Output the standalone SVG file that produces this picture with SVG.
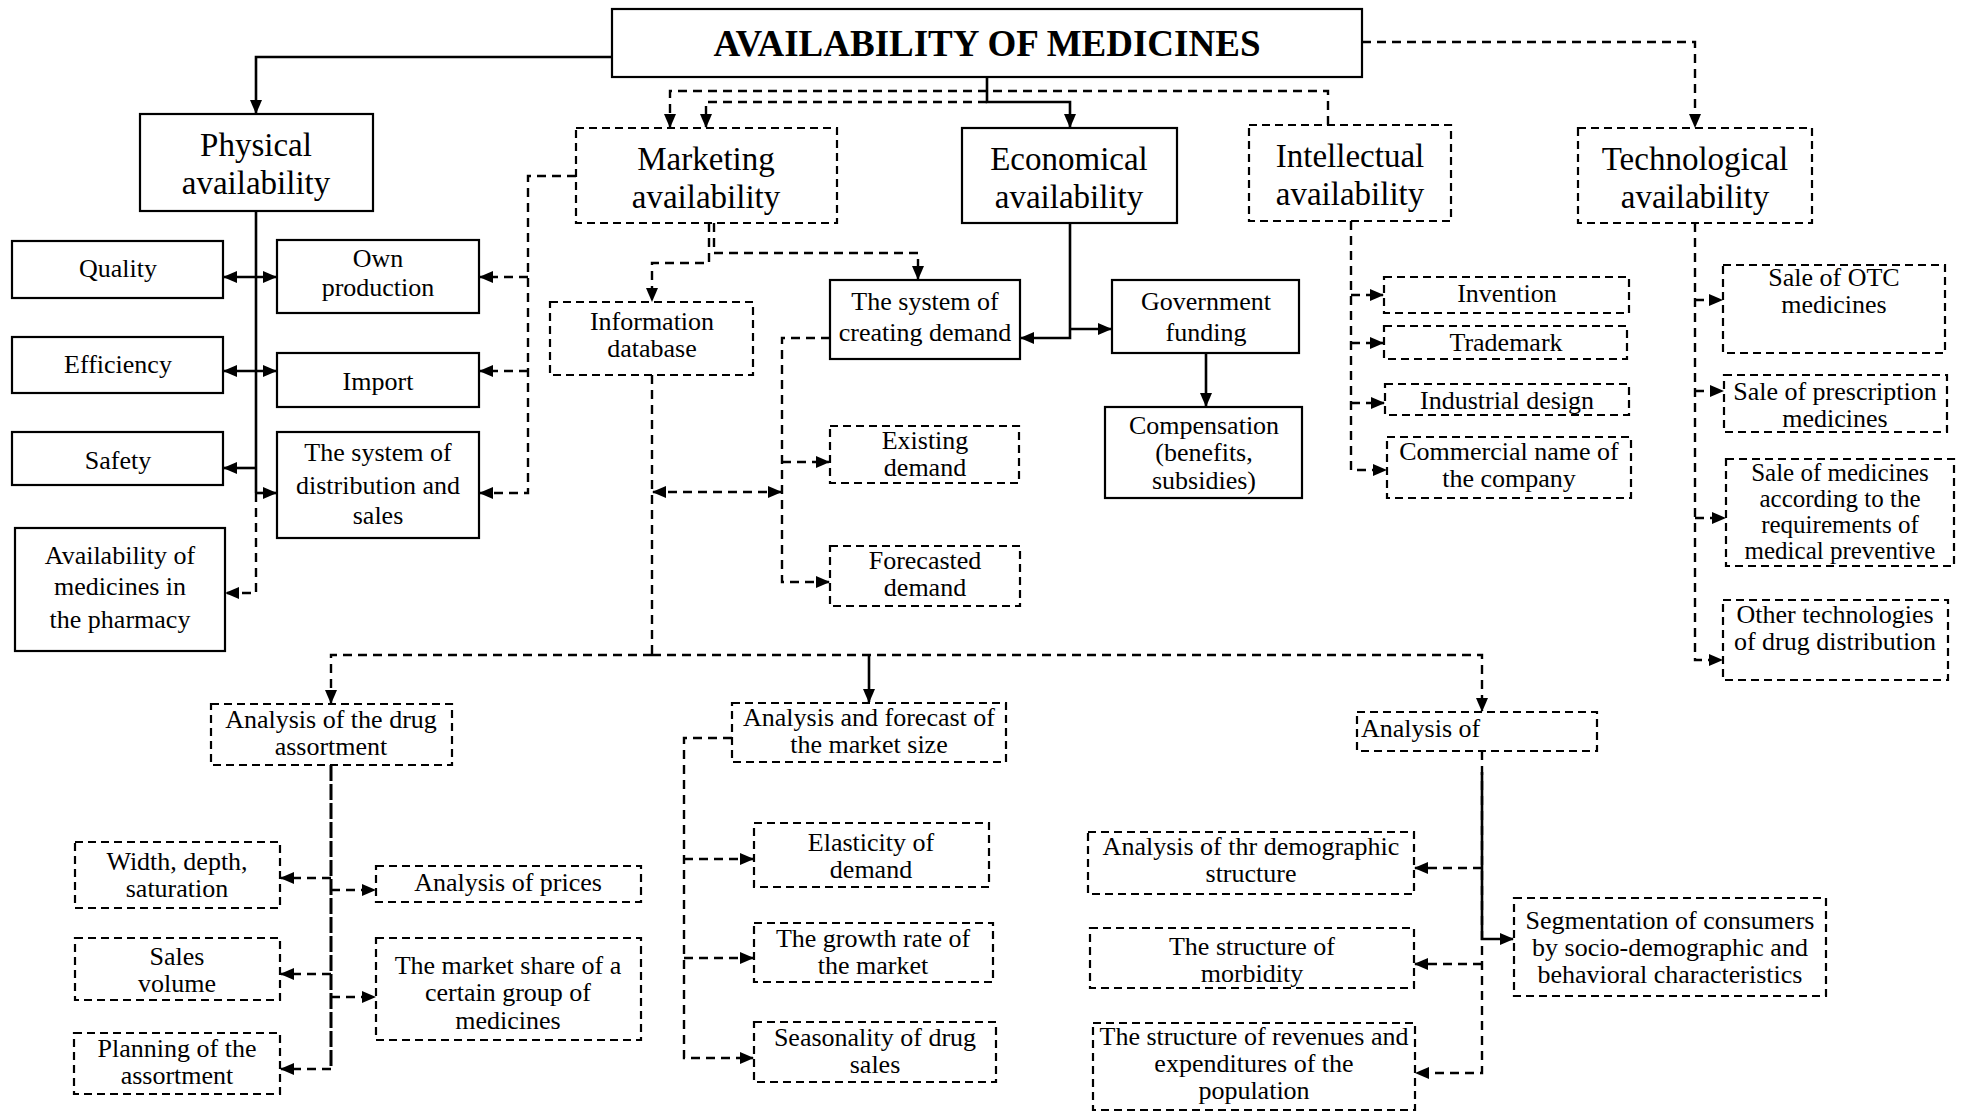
<svg xmlns="http://www.w3.org/2000/svg" width="1964" height="1113" viewBox="0 0 1964 1113">
<style>
.b{fill:#fff;stroke:#000;stroke-width:2.2}
.db{fill:#fff;stroke:#000;stroke-width:2.2;stroke-dasharray:8 5}
text{font-family:"Liberation Serif","Times New Roman",serif;font-size:26px;text-anchor:middle;fill:#000}
.big{font-size:33px}
.title{font-size:37px;font-weight:bold}
.sm{font-size:25px}
.s{fill:none;stroke:#000;stroke-width:2.6}
.d{fill:none;stroke:#000;stroke-width:2.4;stroke-dasharray:9 6}
.dt{fill:none;stroke:#000;stroke-width:3;stroke-dasharray:16 3}
</style>
<defs>
<marker id="a" viewBox="0 0 14 12" refX="13" refY="6" markerWidth="14" markerHeight="12" markerUnits="userSpaceOnUse" orient="auto-start-reverse"><path d="M0,0L14,6L0,12z" fill="#000"/></marker>
</defs>
<rect width="1964" height="1113" fill="#fff"/>
<g id="connectors">
<path class="s" d="M612,57H256V113" marker-end="url(#a)"/>
<path class="s" d="M987,77V102H1070V127" marker-end="url(#a)"/>
<path class="s" d="M256,211V493"/>
<path class="d" d="M256,493V593H226" marker-end="url(#a)"/>
<path class="s" d="M224,277H276" marker-start="url(#a)" marker-end="url(#a)"/>
<path class="s" d="M224,371H276" marker-start="url(#a)" marker-end="url(#a)"/>
<path class="s" d="M256,468H224" marker-end="url(#a)"/>
<path class="s" d="M256,493H276" marker-end="url(#a)"/>
<path class="s" d="M1070,223V338H1021" marker-end="url(#a)"/>
<path class="s" d="M1070,329H1111" marker-end="url(#a)"/>
<path class="s" d="M1206,353V406" marker-end="url(#a)"/>
<path class="s" d="M869,655V702" marker-end="url(#a)"/>
<path class="s" d="M1482,772V939H1513" marker-end="url(#a)"/>
<path class="d" d="M1362,42H1695V127" marker-end="url(#a)"/>
<path class="d" d="M1328,125V91H670V127" marker-end="url(#a)"/>
<path class="d" d="M987,102H706V127" marker-end="url(#a)"/>
<path class="d" d="M576,176H528V493H480" marker-end="url(#a)"/>
<path class="d" d="M528,277H480" marker-end="url(#a)"/>
<path class="d" d="M528,371H480" marker-end="url(#a)"/>
<path class="d" d="M709,223V263H652V301" marker-end="url(#a)"/>
<path class="d" d="M714,223V253H918V279" marker-end="url(#a)"/>
<path class="d" d="M830,338H782V582H829" marker-end="url(#a)"/>
<path class="d" d="M782,462H829" marker-end="url(#a)"/>
<path class="d" d="M653,492H781" marker-start="url(#a)" marker-end="url(#a)"/>
<path class="d" d="M652,375V655"/>
<path class="d" d="M652,655H331V703" marker-end="url(#a)"/>
<path class="d" d="M652,655H1482V711" marker-end="url(#a)"/>
<path class="dt" d="M331,765V1069"/>
<path class="d" d="M331,1069H281" marker-end="url(#a)"/>
<path class="d" d="M331,878H281" marker-end="url(#a)"/>
<path class="d" d="M331,974H281" marker-end="url(#a)"/>
<path class="d" d="M331,890H375" marker-end="url(#a)"/>
<path class="d" d="M331,997H375" marker-end="url(#a)"/>
<path class="d" d="M732,738H684V1058H753" marker-end="url(#a)"/>
<path class="d" d="M684,859H753" marker-end="url(#a)"/>
<path class="d" d="M684,958H753" marker-end="url(#a)"/>
<path class="d" d="M1482,751V1073H1416" marker-end="url(#a)"/>
<path class="d" d="M1482,868H1415" marker-end="url(#a)"/>
<path class="d" d="M1482,964H1415" marker-end="url(#a)"/>
<path class="d" d="M1351,221V470H1386" marker-end="url(#a)"/>
<path class="d" d="M1351,295H1383" marker-end="url(#a)"/>
<path class="d" d="M1351,343H1383" marker-end="url(#a)"/>
<path class="d" d="M1351,403H1384" marker-end="url(#a)"/>
<path class="d" d="M1695,223V660H1722" marker-end="url(#a)"/>
<path class="d" d="M1695,300H1722" marker-end="url(#a)"/>
<path class="d" d="M1695,391H1723" marker-end="url(#a)"/>
<path class="d" d="M1695,518H1725" marker-end="url(#a)"/>
</g>
<g id="main"><rect class="b" x="612" y="9" width="750" height="68"/><text class="title" x="987" y="56">AVAILABILITY OF MEDICINES</text></g>
<g id="physical"><rect class="b" x="140" y="114" width="233" height="97"/><text class="big" x="256" y="156">Physical</text><text class="big" x="256" y="194">availability</text></g>
<g id="marketing"><rect class="db" x="576" y="128" width="261" height="95"/><text class="big" x="706" y="170">Marketing</text><text class="big" x="706" y="208">availability</text></g>
<g id="economical"><rect class="b" x="962" y="128" width="215" height="95"/><text class="big" x="1069" y="170">Economical</text><text class="big" x="1069" y="208">availability</text></g>
<g id="intellectual"><rect class="db" x="1249" y="125" width="202" height="96"/><text class="big" x="1350" y="167">Intellectual</text><text class="big" x="1350" y="205">availability</text></g>
<g id="technological"><rect class="db" x="1578" y="128" width="234" height="95"/><text class="big" x="1695" y="170">Technological</text><text class="big" x="1695" y="208">availability</text></g>
<g id="quality"><rect class="b" x="12" y="241" width="211" height="57"/><text x="118" y="277">Quality</text></g>
<g id="own"><rect class="b" x="277" y="240" width="202" height="73"/><text x="378" y="267">Own</text><text x="378" y="296">production</text></g>
<g id="efficiency"><rect class="b" x="12" y="337" width="211" height="56"/><text x="118" y="373">Efficiency</text></g>
<g id="import"><rect class="b" x="277" y="353" width="202" height="54"/><text x="378" y="390">Import</text></g>
<g id="safety"><rect class="b" x="12" y="432" width="211" height="53"/><text x="118" y="469">Safety</text></g>
<g id="distribution"><rect class="b" x="277" y="432" width="202" height="106"/><text x="378" y="461">The system of</text><text x="378" y="494">distribution and</text><text x="378" y="524">sales</text></g>
<g id="pharmacy"><rect class="b" x="15" y="528" width="210" height="123"/><text x="120" y="564">Availability of</text><text x="120" y="595">medicines in</text><text x="120" y="628">the pharmacy</text></g>
<g id="infodb"><rect class="db" x="550" y="302" width="203" height="73"/><text x="652" y="330">Information</text><text x="652" y="357">database</text></g>
<g id="creating"><rect class="b" x="830" y="280" width="190" height="79"/><text x="925" y="310">The system of</text><text x="925" y="341">creating demand</text></g>
<g id="govfunding"><rect class="b" x="1112" y="280" width="187" height="73"/><text x="1206" y="310">Government</text><text x="1206" y="341">funding</text></g>
<g id="compensation"><rect class="b" x="1105" y="407" width="197" height="91"/><text x="1204" y="434">Compensation</text><text x="1204" y="461">(benefits,</text><text x="1204" y="489">subsidies)</text></g>
<g id="existing"><rect class="db" x="830" y="426" width="189" height="57"/><text x="925" y="449">Existing</text><text x="925" y="476">demand</text></g>
<g id="forecasted"><rect class="db" x="830" y="546" width="190" height="60"/><text x="925" y="569">Forecasted</text><text x="925" y="596">demand</text></g>
<g id="invention"><rect class="db" x="1384" y="277" width="245" height="36"/><text x="1507" y="302">Invention</text></g>
<g id="trademark"><rect class="db" x="1384" y="326" width="243" height="33"/><text x="1506" y="351">Trademark</text></g>
<g id="industrial"><rect class="db" x="1385" y="384" width="244" height="31"/><text x="1507" y="409">Industrial design</text></g>
<g id="commercial"><rect class="db" x="1387" y="437" width="244" height="61"/><text x="1509" y="460">Commercial name of</text><text x="1509" y="487">the company</text></g>
<g id="otc"><rect class="db" x="1723" y="265" width="222" height="88"/><text x="1834" y="286">Sale of OTC</text><text x="1834" y="313">medicines</text></g>
<g id="prescription"><rect class="db" x="1724" y="375" width="223" height="57"/><text x="1835" y="400">Sale of prescription</text><text x="1835" y="427">medicines</text></g>
<g id="according"><rect class="db" x="1726" y="459" width="228" height="107"/><text class="sm" x="1840" y="481">Sale of medicines</text><text class="sm" x="1840" y="507">according to the</text><text class="sm" x="1840" y="533">requirements of</text><text class="sm" x="1840" y="559">medical preventive</text></g>
<g id="other"><rect class="db" x="1723" y="600" width="225" height="80"/><text x="1835" y="623">Other technologies</text><text x="1835" y="650">of drug distribution</text></g>
<g id="drugassort"><rect class="db" x="211" y="704" width="241" height="61"/><text x="331" y="728">Analysis of the drug</text><text x="331" y="755">assortment</text></g>
<g id="marketsize"><rect class="db" x="732" y="703" width="274" height="59"/><text x="869" y="726">Analysis and forecast of</text><text x="869" y="753">the market size</text></g>
<g id="analysisof"><rect class="db" x="1357" y="712" width="240" height="39"/><text x="1361" y="737" style="text-anchor:start">Analysis of</text></g>
<g id="width"><rect class="db" x="75" y="842" width="205" height="66"/><text x="177" y="870">Width, depth,</text><text x="177" y="897">saturation</text></g>
<g id="salesvol"><rect class="db" x="75" y="938" width="205" height="62"/><text x="177" y="965">Sales</text><text x="177" y="992">volume</text></g>
<g id="planning"><rect class="db" x="74" y="1033" width="206" height="61"/><text x="177" y="1057">Planning of the</text><text x="177" y="1084">assortment</text></g>
<g id="prices"><rect class="db" x="376" y="866" width="265" height="36"/><text x="508" y="891">Analysis of prices</text></g>
<g id="marketshare"><rect class="db" x="376" y="938" width="265" height="102"/><text x="508" y="974">The market share of a</text><text x="508" y="1001">certain group of</text><text x="508" y="1029">medicines</text></g>
<g id="elasticity"><rect class="db" x="754" y="823" width="235" height="64"/><text x="871" y="851">Elasticity of</text><text x="871" y="878">demand</text></g>
<g id="growth"><rect class="db" x="754" y="923" width="239" height="59"/><text x="873" y="947">The growth rate of</text><text x="873" y="974">the market</text></g>
<g id="seasonality"><rect class="db" x="754" y="1022" width="242" height="60"/><text x="875" y="1046">Seasonality of drug</text><text x="875" y="1073">sales</text></g>
<g id="demographic"><rect class="db" x="1088" y="832" width="326" height="62"/><text x="1251" y="855">Analysis of thr demographic</text><text x="1251" y="882">structure</text></g>
<g id="morbidity"><rect class="db" x="1090" y="928" width="324" height="60"/><text x="1252" y="955">The structure of</text><text x="1252" y="982">morbidity</text></g>
<g id="revenues"><rect class="db" x="1093" y="1023" width="322" height="87"/><text x="1254" y="1045">The structure of revenues and</text><text x="1254" y="1072">expenditures of the</text><text x="1254" y="1099">population</text></g>
<g id="segmentation"><rect class="db" x="1514" y="898" width="312" height="98"/><text x="1670" y="929">Segmentation of consumers</text><text x="1670" y="956">by socio-demographic and</text><text x="1670" y="983">behavioral characteristics</text></g>
</svg>
